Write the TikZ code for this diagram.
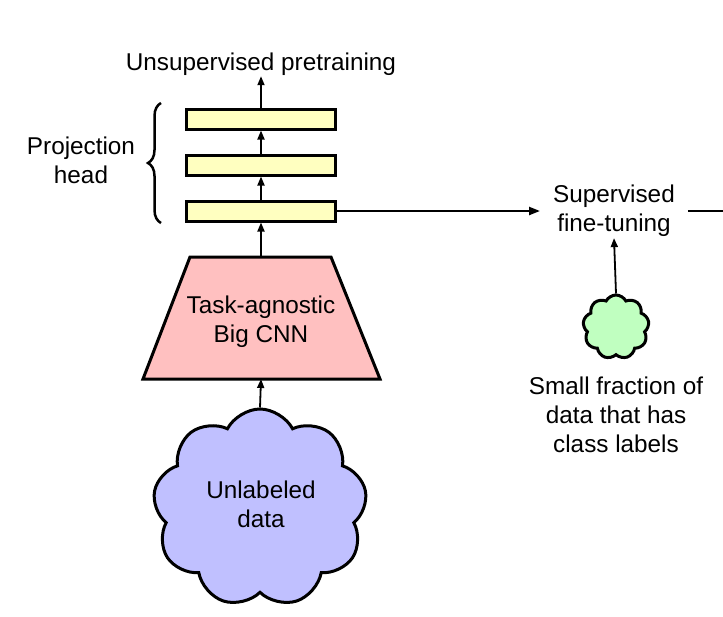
\documentclass[tikz,border=0pt]{standalone}
\usepackage{fontspec}
\setmainfont{Liberation Sans}
\usetikzlibrary{arrows.meta,shapes.symbols,decorations.pathreplacing}
\definecolor{layerfill}{HTML}{FFFFC0}
\definecolor{cnnfill}{HTML}{FFC0C0}
\definecolor{bluecloud}{HTML}{C0C0FF}
\definecolor{greencloud}{HTML}{C0FFC0}
\tikzset{
  lbl/.style={font=\fontsize{24.3}{29.2}\selectfont, align=center, inner sep=1pt},
  layer/.style={draw, line width=3pt, fill=layerfill, minimum width=149pt, minimum height=20pt, inner sep=0pt},
  arr/.style={line width=1.8pt, -{Triangle[length=9pt,width=7pt]}},
  harr/.style={line width=2.2pt, -{Triangle[length=11pt,width=8pt]}},
  cloudshape/.style={cloud, draw, line width=3pt, cloud puffs=9, cloud puff arc=125, aspect=1, inner sep=0pt},
}
\begin{document}
\begin{tikzpicture}[x=1pt,y=-1pt]
\useasboundingbox (0,0) rectangle (723,616);
% layers
\node[layer] (r1) at (261,119) {};
\node[layer] (r2) at (261,165) {};
\node[layer] (r3) at (261,211) {};
% trapezoid CNN
\draw[line width=3pt, fill=cnnfill] (190,257) -- (331,257) -- (380,379) -- (143,379) -- cycle;
\coordinate (cnntop) at (261,257);
\coordinate (cnnbot) at (261,379);
\node[lbl] (cnn) at (261,322) {Task-agnostic\\Big CNN};
% big cloud
\node[cloudshape, fill=bluecloud, minimum width=214pt, minimum height=198pt] (data) at (260,508) {};
\node[lbl] (datatxt) at (261,504.5) {Unlabeled\\data};
% top text
\node[lbl, anchor=base] (unsup) at (261,70) {Unsupervised pretraining};
% projection head
\node[lbl] (proj) at (81,160) {Projection\\head};
\draw[line width=2.5pt, decorate, decoration={brace, amplitude=13pt}] (161,223) -- (161,103);
% supervised
\node[lbl, inner xsep=13pt] (sup) at (614,211) {Supervised\\fine-tuning};
\coordinate (offright) at (723,211);
% green cloud
\node[cloudshape, fill=greencloud, minimum width=66pt, minimum height=64pt] (small) at (616,327) {};
\node[lbl] (smalltxt) at (616,415) {Small fraction of\\data that has\\class labels};
% arrows
\draw[arr] (data.north) -- (cnnbot);
\draw[arr] (cnntop) -- (r3.south);
\draw[arr] (r3.north) -- (r2.south);
\draw[arr] (r2.north) -- (r1.south);
\draw[arr] (r1.north) -- (unsup.south);
\draw[harr] (r3.east) -- (sup.west);
\draw[line width=2.2pt] (sup.east) -- (offright);
\draw[arr] (small.north) -- (sup.south);
\end{tikzpicture}
\end{document}
